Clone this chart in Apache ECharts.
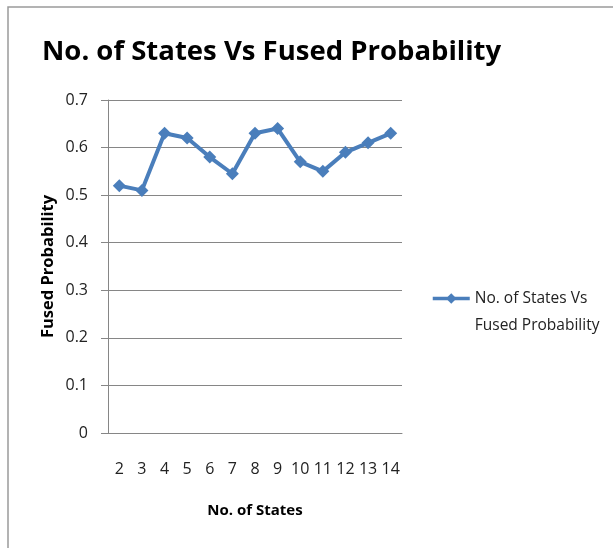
<!DOCTYPE html>
<html>
<head>
<meta charset="utf-8">
<script src="https://cdn.jsdelivr.net/npm/echarts@6/dist/echarts.min.js"></script>
<style>
html,body{margin:0;padding:0;background:#fff;}
#chart{width:613px;height:548px;}
</style>
</head>
<body>
<div id="chart"></div>
<script>
const categories = ['2','3','4','5','6','7','8','9','10','11','12','13','14'];
const fusedProbability = [0.52, 0.51, 0.63, 0.62, 0.58, 0.545, 0.63, 0.64, 0.57, 0.55, 0.59, 0.61, 0.63];
const yTicks = [0, 0.1, 0.2, 0.3, 0.4, 0.5, 0.6, 0.7];
const seriesName = 'No. of States Vs Fused Probability';

const FONT = '"Open Sans", sans-serif';
const chart = echarts.init(document.getElementById('chart'));
chart.setOption({
  animation: false,
  backgroundColor: '#fff',
  graphic: [{
    type: 'rect', shape: { x: 8, y: 7, width: 700, height: 700 },
    style: { fill: 'none', stroke: '#9a9a9a', lineWidth: 1.5 }, silent: true
  }],
  title: {
    text: 'No. of States Vs Fused Probability',
    left: 37, top: 33,
    textStyle: { fontFamily: FONT, fontWeight: 'bold', fontSize: 27.5, color: '#000' }
  },
  legend: {
    left: 431, top: 258, padding: 0,
    itemWidth: 37, itemHeight: 13, itemGap: 5,
    lineStyle: { width: 3.5 },
    formatter: function () { return ' \nNo. of States Vs\nFused Probability'; },
    textStyle: { fontFamily: FONT, fontSize: 15.5, color: '#222', lineHeight: 27 },
    data: [{ name: seriesName }]
  },
  grid: { left: 108, right: 211, top: 100, bottom: 115 },
  xAxis: {
    type: 'category', data: categories, boundaryGap: true,
    name: 'No. of States', nameLocation: 'middle', nameGap: 70,
    nameTextStyle: { fontFamily: FONT, fontWeight: 'bold', fontSize: 15, color: '#000' },
    axisLine: { lineStyle: { color: '#868686', width: 1 } },
    axisTick: { show: false },
    axisLabel: { margin: 28, fontFamily: FONT, fontSize: 16, color: '#222', interval: 0 }
  },
  yAxis: {
    type: 'value', min: 0, max: 0.7, interval: 0.1,
    name: 'Fused Probability', nameLocation: 'middle', nameGap: 51,
    nameTextStyle: { fontFamily: FONT, fontWeight: 'bold', fontSize: 16.5, color: '#000' },
    axisLine: { show: true, lineStyle: { color: '#868686', width: 1 } },
    axisTick: { show: true, length: 7, lineStyle: { color: '#868686' } },
    splitLine: { lineStyle: { color: '#868686', width: 1 } },
    axisLabel: {
      margin: 20, fontFamily: FONT, fontSize: 16, color: '#222',
      formatter: function (v) {
        const t = yTicks.find(function (y) { return Math.abs(y - v) < 1e-9; });
        return t === undefined ? '' : String(t);
      }
    }
  },
  series: [{
    name: seriesName, type: 'line', data: fusedProbability,
    symbol: 'diamond', symbolSize: 13,
    lineStyle: { color: '#4a7ebb', width: 4 },
    itemStyle: { color: '#4a7ebb' }
  }]
});
</script>
</body>
</html>
